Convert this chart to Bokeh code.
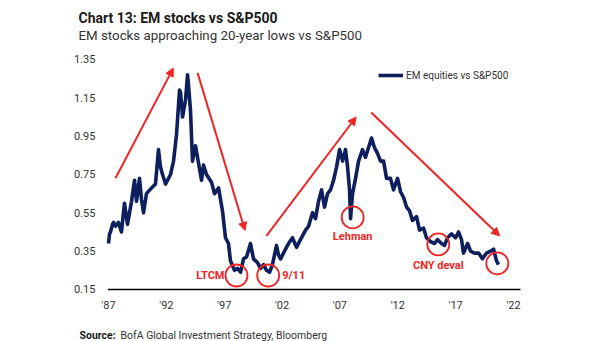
from bokeh.plotting import figure
from bokeh.models import (ColumnDataSource, Label, Arrow, NormalHead, FixedTicker,
                          Legend, LegendItem, Range1d)
from bokeh.embed import file_html
from bokeh.resources import INLINE

# ---------------- data ----------------
years = [1987.00, 1987.09, 1987.17, 1987.35, 1987.43, 1987.61, 1987.86, 1988.12, 1988.38, 1988.64,
         1988.99, 1989.25, 1989.42, 1989.68, 1989.85, 1990.03, 1990.28, 1990.72, 1991.06, 1991.32,
         1991.49, 1991.67, 1991.93, 1992.36, 1992.62, 1992.88, 1993.14, 1993.22, 1993.40, 1993.66,
         1993.83, 1993.91, 1994.09, 1994.26, 1994.52, 1994.78, 1995.04, 1995.21, 1995.47, 1995.90,
         1996.16, 1996.51, 1996.85, 1997.11, 1997.37, 1997.54, 1997.89, 1998.15, 1998.41, 1998.67,
         1998.93, 1999.27, 1999.53, 1999.88, 2000.14, 2000.40, 2000.66, 2000.92, 2001.17, 2001.52,
         2001.69, 2001.87, 2002.21, 2002.56, 2002.90, 2003.25, 2003.59, 2004.03, 2004.29, 2004.63,
         2004.89, 2005.15, 2005.41, 2005.67, 2005.93, 2006.19, 2006.45, 2006.71, 2006.97, 2007.23,
         2007.48, 2007.66, 2007.83, 2007.92, 2008.09, 2008.35, 2008.61, 2008.95, 2009.21, 2009.47,
         2009.73, 2009.99, 2010.25, 2010.51, 2010.77, 2011.03, 2011.37, 2011.63, 2011.98, 2012.24,
         2012.50, 2012.76, 2013.02, 2013.27, 2013.62, 2013.88, 2014.23, 2014.48, 2014.83, 2015.18,
         2015.43, 2015.78, 2016.04, 2016.30, 2016.65, 2016.99, 2017.25, 2017.51, 2017.68, 2018.03,
         2018.29, 2018.63, 2018.98, 2019.32, 2019.67, 2020.02, 2020.28, 2020.53, 2020.70]
em_vs_spx = [0.39, 0.44, 0.45, 0.49, 0.50, 0.48, 0.50, 0.45, 0.60, 0.49,
             0.61, 0.72, 0.61, 0.73, 0.62, 0.55, 0.65, 0.68, 0.70, 0.88,
             0.79, 0.75, 0.70, 0.75, 0.82, 0.96, 1.19, 1.18, 1.05, 1.14,
             1.27, 1.22, 1.08, 0.82, 0.90, 0.81, 0.72, 0.80, 0.75, 0.71,
             0.65, 0.68, 0.56, 0.42, 0.39, 0.30, 0.25, 0.26, 0.24, 0.31,
             0.32, 0.39, 0.31, 0.29, 0.26, 0.28, 0.25, 0.24, 0.28, 0.38,
             0.33, 0.31, 0.35, 0.39, 0.42, 0.37, 0.41, 0.46, 0.48, 0.55,
             0.52, 0.61, 0.67, 0.58, 0.65, 0.67, 0.72, 0.79, 0.88, 0.82,
             0.88, 0.79, 0.67, 0.52, 0.65, 0.73, 0.82, 0.88, 0.84, 0.89,
             0.94, 0.89, 0.86, 0.82, 0.82, 0.73, 0.73, 0.67, 0.73, 0.66,
             0.63, 0.58, 0.56, 0.51, 0.53, 0.46, 0.47, 0.42, 0.40, 0.39,
             0.41, 0.39, 0.38, 0.42, 0.44, 0.42, 0.45, 0.41, 0.34, 0.39,
             0.35, 0.34, 0.34, 0.31, 0.34, 0.35, 0.36, 0.30, 0.28]

tick_years = [1987, 1992, 1997, 2002, 2007, 2012, 2017, 2022]
tick_labels = ["'87", "'92", "'97", "'02", "'07", "'12", "'17", "'22"]
y_ticks = [0.15, 0.35, 0.55, 0.75, 0.95, 1.15, 1.35]

# event circles and their labels
event_names = ["LTCM", "9/11", "Lehman", "CNY deval", ""]
event_x = [1998.06, 2000.80, 2008.10, 2015.50, 2020.60]
event_y = [0.223, 0.223, 0.526, 0.385, 0.286]

# trend arrows (start year, start value, end year, end value)
arrow_x0 = [1987.6, 1994.7, 2000.65, 2009.7]
arrow_y0 = [0.73, 1.28, 0.43, 1.073]
arrow_x1 = [1992.6, 1998.8, 2008.4, 2020.8]
arrow_y1 = [1.305, 0.458, 1.05, 0.43]

title_text = "Chart 13: EM stocks vs S&P500"
subtitle_text = "EM stocks approaching 20-year lows vs S&P500"
source_bold = "Source:"
source_text = "BofA Global Investment Strategy, Bloomberg"

NAVY = "#0d1f5c"
RED = "#ee2524"
FONT = "Roboto"
W, H = 605, 341

# The plotting frame fills the whole canvas; the axes are drawn at fixed locations
# inside it so that titles and the source line can sit around the chart.
p = figure(width=W, height=H, output_backend="svg", toolbar_location=None, title=None,
           x_range=Range1d(1977.667, 2029.951), y_range=Range1d(-0.1213, 1.6578),
           min_border=0, min_border_left=0, min_border_right=0,
           min_border_top=0, min_border_bottom=0)
p.outline_line_color = None
p.grid.grid_line_color = None

src = ColumnDataSource(dict(x=years, y=em_vs_spx))
line = p.line("x", "y", source=src, line_color=NAVY, line_width=3.6, line_join="round")

# baseline of the x axis (from the first tick to the right end of the chart)
p.segment(x0=[tick_years[0] - 0.05], y0=[y_ticks[0]], x1=[tick_years[-1] + 0.6],
          y1=[y_ticks[0]], line_color="black", line_width=1.5)

xa = p.xaxis[0]
xa.fixed_location = y_ticks[0]
xa.ticker = FixedTicker(ticks=tick_years)
xa.major_label_overrides = {t: l for t, l in zip(tick_years, tick_labels)}
xa.axis_line_color = None
xa.major_tick_line_color = None
xa.minor_tick_line_color = None
xa.major_label_text_font = FONT
xa.major_label_text_font_size = "11px"
xa.major_label_text_color = "#333333"
xa.major_label_standoff = 4

ya = p.yaxis[0]
ya.fixed_location = 1986.9
ya.ticker = FixedTicker(ticks=y_ticks)
ya.major_label_overrides = {t: f"{t:.2f}" for t in y_ticks}
ya.axis_line_color = None
ya.major_tick_line_color = None
ya.minor_tick_line_color = None
ya.major_label_text_font = FONT
ya.major_label_text_font_size = "11px"
ya.major_label_text_color = "#333333"
ya.major_label_standoff = 6

for x0, y0, x1, y1 in zip(arrow_x0, arrow_y0, arrow_x1, arrow_y1):
    p.add_layout(Arrow(end=NormalHead(size=8, fill_color=RED, line_color=RED, line_width=1),
                       x_start=x0, y_start=y0, x_end=x1, y_end=y1,
                       line_color=RED, line_width=2))

p.scatter(event_x, event_y, marker="circle", size=22, fill_color=None,
          line_color=RED, line_width=1.8)

lab_style = dict(text_color=RED, text_font=FONT, text_font_size="11px",
                 text_font_style="bold")
p.add_layout(Label(x=event_x[0], y=event_y[0], x_offset=-12, text=event_names[0],
                   text_align="right", text_baseline="middle", **lab_style))
p.add_layout(Label(x=event_x[1], y=event_y[1], x_offset=14, text=event_names[1],
                   text_align="left", text_baseline="middle", **lab_style))
p.add_layout(Label(x=event_x[2], y=event_y[2], y_offset=-19, text=event_names[2],
                   text_align="center", text_baseline="middle", **lab_style))
p.add_layout(Label(x=event_x[3], y=event_y[3], y_offset=-21, text=event_names[3],
                   text_align="center", text_baseline="middle", **lab_style))

legend = Legend(items=[LegendItem(label="EM equities vs S&P500", renderers=[line])],
                location=(378, 260), border_line_color=None, background_fill_alpha=0,
                label_text_font=FONT, label_text_font_size="10px", label_text_color="#333333",
                glyph_width=25, glyph_height=12, padding=2, margin=0, spacing=0,
                label_standoff=3)
p.add_layout(legend, "center")

# titles and source (screen pixels from the bottom-left corner)
def slabel(x, y_from_top, text, **kw):
    p.add_layout(Label(x=x, y=H - y_from_top, x_units="screen", y_units="screen",
                       text=text, text_baseline="alphabetic", text_font=FONT, **kw))

slabel(78, 17, title_text, text_font_size="14px", text_font_style="bold", text_color="#1a1a1a")
slabel(78, 35, subtitle_text, text_font_size="13.3px", text_color="#333333")
slabel(79, 335, source_bold, text_font_size="10.5px", text_font_style="bold", text_color="#1a1a1a")
slabel(120, 335, source_text, text_font_size="10.5px", text_color="#333333")

open("out.html", "w").write(file_html(p, INLINE))
